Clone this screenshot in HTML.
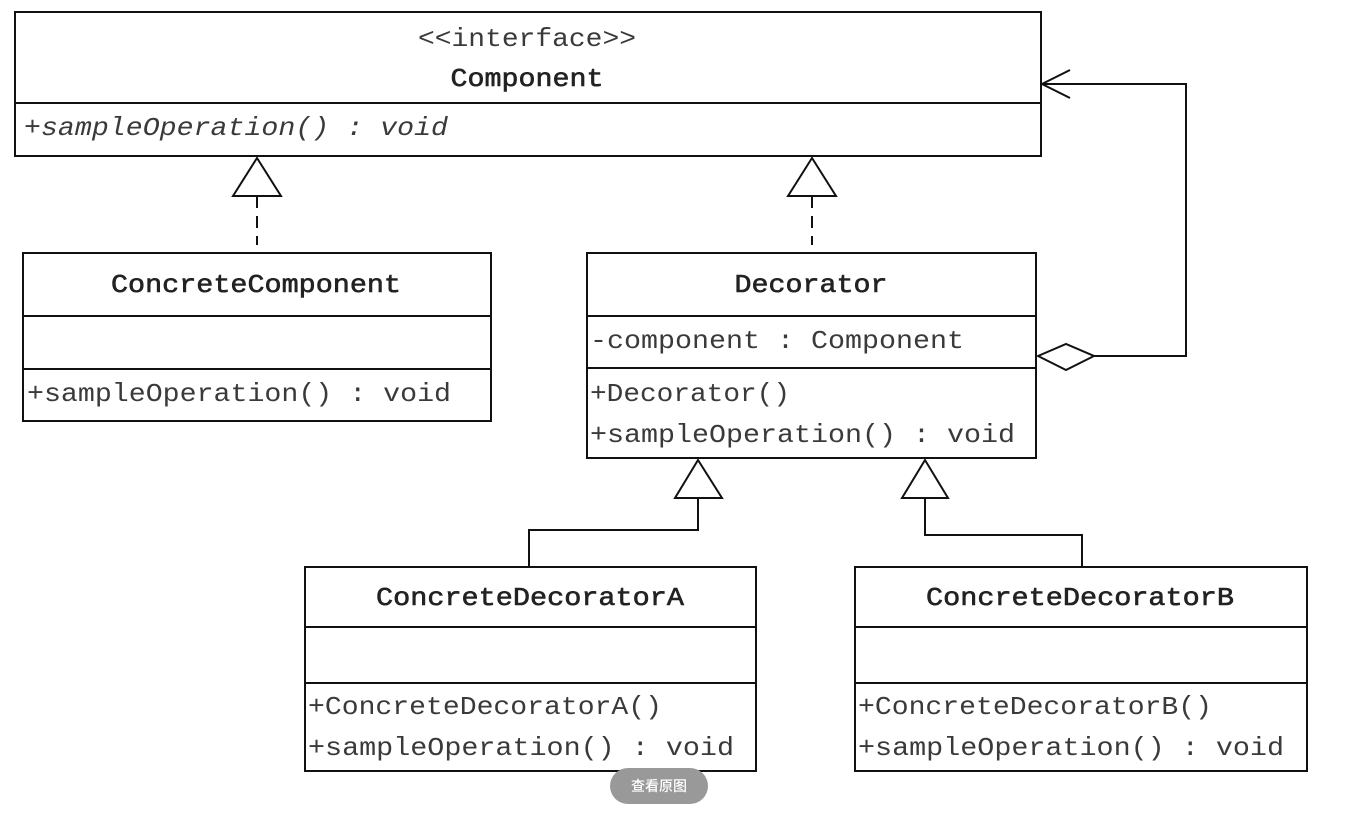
<!DOCTYPE html>
<html><head><meta charset="utf-8"><style>
html,body{margin:0;padding:0;background:#fff;width:1355px;height:815px;overflow:hidden}
svg{display:block}
text{font-family:"Liberation Mono","Noto Sans CJK SC",monospace;font-size:26px;fill:#3a3a3a}
.b{fill:#222;stroke:#222;stroke-width:0.6}
</style></head><body>
<svg width="1355" height="815" viewBox="0 0 1355 815">
<g fill="none" stroke="#111" stroke-width="2">
<rect x="15" y="12" width="1026" height="144"/><line x1="15" y1="103" x2="1041" y2="103"/>
<rect x="23" y="253" width="468" height="168"/><line x1="23" y1="316" x2="491" y2="316"/><line x1="23" y1="369" x2="491" y2="369"/>
<rect x="587" y="253" width="449" height="205"/><line x1="587" y1="316" x2="1036" y2="316"/><line x1="587" y1="368" x2="1036" y2="368"/>
<rect x="305" y="567" width="451" height="204"/><line x1="305" y1="627" x2="756" y2="627"/><line x1="305" y1="683" x2="756" y2="683"/>
<rect x="855" y="567" width="452" height="204"/><line x1="855" y1="627" x2="1307" y2="627"/><line x1="855" y1="683" x2="1307" y2="683"/>
<polygon points="257,158 233,196 281,196"/><line x1="257" y1="196" x2="257" y2="245" stroke-dasharray="12,8"/>
<polygon points="812,158 788,196 836,196"/><line x1="812" y1="196" x2="812" y2="245" stroke-dasharray="12,8"/>
<polygon points="698,460 675,498 722,498"/><polyline points="698,498 698,530 529,530 529,567"/>
<polygon points="925,460 902,498 948,498"/><polyline points="925,498 925,535 1082,535 1082,567"/>
<polygon points="1038,356 1066,344 1094,356 1066,370"/><polyline points="1094,356 1186,356 1186,84 1042,84"/>
<polyline points="1070,70 1042,84 1070,98"/>
</g>
<text x="527" y="46" text-anchor="middle" textLength="218" lengthAdjust="spacingAndGlyphs">&lt;&lt;interface&gt;&gt;</text>
<text class="b" x="527" y="86" text-anchor="middle" textLength="153" lengthAdjust="spacingAndGlyphs">Component</text>
<text x="24" y="135" font-style="italic" textLength="424" lengthAdjust="spacingAndGlyphs">+sampleOperation() : void</text>
<text class="b" x="256" y="292" text-anchor="middle" textLength="290" lengthAdjust="spacingAndGlyphs">ConcreteComponent</text>
<text x="27" y="401" textLength="424" lengthAdjust="spacingAndGlyphs">+sampleOperation() : void</text>
<text class="b" x="811" y="292" text-anchor="middle" textLength="153" lengthAdjust="spacingAndGlyphs">Decorator</text>
<text x="590" y="348" textLength="374" lengthAdjust="spacingAndGlyphs">-component : Component</text>
<text x="590" y="401" textLength="200" lengthAdjust="spacingAndGlyphs">+Decorator()</text>
<text x="590" y="442" textLength="425" lengthAdjust="spacingAndGlyphs">+sampleOperation() : void</text>
<text class="b" x="530" y="605" text-anchor="middle" textLength="308" lengthAdjust="spacingAndGlyphs">ConcreteDecoratorA</text>
<text x="308" y="714" textLength="354" lengthAdjust="spacingAndGlyphs">+ConcreteDecoratorA()</text>
<text x="308" y="755" textLength="426" lengthAdjust="spacingAndGlyphs">+sampleOperation() : void</text>
<text class="b" x="1080" y="605" text-anchor="middle" textLength="308" lengthAdjust="spacingAndGlyphs">ConcreteDecoratorB</text>
<text x="858" y="714" textLength="354" lengthAdjust="spacingAndGlyphs">+ConcreteDecoratorB()</text>
<text x="858" y="755" textLength="426" lengthAdjust="spacingAndGlyphs">+sampleOperation() : void</text>
<rect x="610" y="768" width="98" height="36" rx="18" fill="#999"/>
<text x="659" y="791" text-anchor="middle" style="font-family:'Noto Sans CJK SC',sans-serif;font-size:14px;font-weight:500;fill:#fff">查看原图</text>
</svg>
</body></html>
